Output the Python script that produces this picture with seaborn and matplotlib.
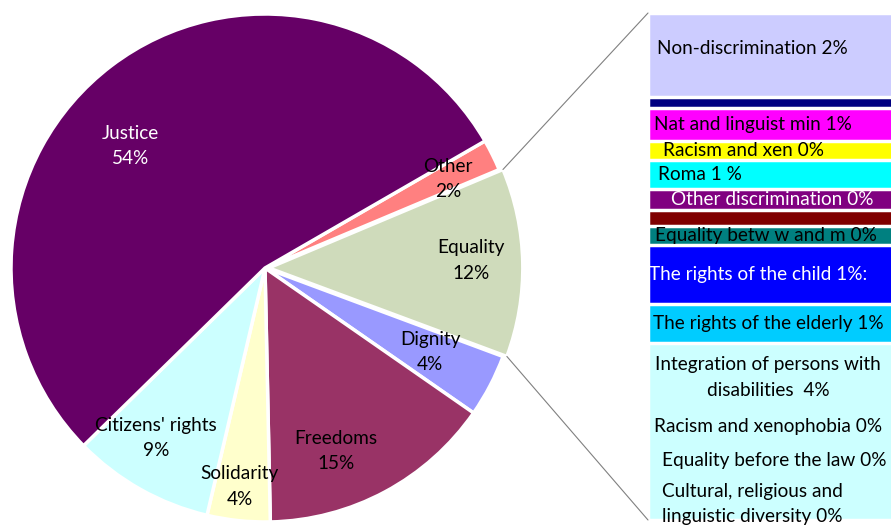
import numpy as np
import matplotlib
matplotlib.use("Agg")
import matplotlib.pyplot as plt
from matplotlib.patches import ConnectionPatch
import seaborn as sns

# pie slices, clockwise starting at 30 degrees
pie_labels = ["Other", "Equality", "Dignity", "Freedoms", "Solidarity", "Citizens' rights", "Justice"]
pie_values = [2, 12, 4, 15, 4, 9, 54]
pie_colors = ["#FF8080", "#CFDBBB", "#9999FF", "#993366", "#FFFFCC", "#CCFFFF", "#660066"]

# breakdown of the Equality slice (top to bottom)
bar_labels = ["Non-discrimination 2%", "", "Nat and linguist min 1%", "Racism and xen 0%",
              "Roma 1 %", "Other discrimination 0%", "", "Equality betw w and m 0%",
              "The rights of the child 1%:", "The rights of the elderly 1%",
              "Integration of persons with\ndisabilities  4%", "Racism and xenophobia 0%",
              "Equality before the law 0%", "Cultural, religious and\nlinguistic diversity 0%"]
bar_values = [1.98, 0.27, 0.79, 0.45, 0.67, 0.51, 0.37, 0.44, 1.41, 0.91, 4.20, 0, 0, 0]
bar_colors = ["#CCCCFF", "#000080", "#FF00FF", "#FFFF00", "#00FFFF", "#800080", "#800000",
              "#008080", "#0000FF", "#00CCFF", "#CCFFFF", "#CCFFCC", "#FFFF99", "#99CCFF"]

sns.set_style("white")
plt.rcParams['font.family'] = ['Lato', 'DejaVu Sans']
FS = 13.7
LS = 1.6

W, H = 891, 525
fig = plt.figure(figsize=(W / 100, H / 100), dpi=100)

# ---- pie ----
cx, cy, R = 265, 268, 254
side = 2.2 * R
ax_pie = fig.add_axes([(cx - side / 2) / W, (H - cy - side / 2) / H, side / W, side / H])
explode = [0.015 if l == "Equality" else 0 for l in pie_labels]
wedges, _ = ax_pie.pie(pie_values, colors=pie_colors, startangle=30, counterclock=False,
                       explode=explode, radius=1,
                       wedgeprops=dict(edgecolor="white", linewidth=2.5))
ax_pie.set_xlim(-1.1, 1.1)
ax_pie.set_ylim(-1.1, 1.1)
ax_pie.set_aspect("equal")
ax_pie.axis("off")

# label spots (x, y in pie radius units)
pie_text_pos = [(0.72, 0.35), (0.81, 0.03), (0.65, -0.33), (0.28, -0.72),
                (-0.10, -0.86), (-0.43, -0.67), (-0.53, 0.48)]
for lab, v, (tx, ty) in zip(pie_labels, pie_values, pie_text_pos):
    ax_pie.text(tx, ty, f"{lab}\n{v}%", ha="center", va="center", fontsize=FS,
                linespacing=LS, color="white" if lab == "Justice" else "black")

# ---- bar of pie ----
bx0, bx1, btop, bbot = 648, 900, 13, 520
ax_bar = fig.add_axes([bx0 / W, (H - bbot) / H, (bx1 - bx0) / W, (bbot - btop) / H])
cum = np.cumsum(bar_values)
for i in reversed(range(len(bar_values))):
    if bar_values[i] > 0:
        sns.barplot(x=[0], y=[cum[i]], color=bar_colors[i], width=1, saturation=1,
                    edgecolor="white", linewidth=2.5, ax=ax_bar)
total = cum[-1]
ax_bar.set_xlim(-0.5, 0.5)
ax_bar.set_ylim(total, 0)
ax_bar.axis("off")

# text layout: (left offset px, y override or None, centred?)
bar_text_layout = [(9, 0.85, False), None, (6, None, False), (15, None, False),
                   (10, None, False), (23, None, False), None, (7, None, False),
                   (1, None, False), (5, None, False), (120, 8.63, True), (6, 9.78, False),
                   (14, 10.58, False), (14, 11.62, False)]
white_text = {"Other discrimination 0%", "The rights of the child 1%:"}
starts = cum - np.array(bar_values)
for i, lab in enumerate(bar_labels):
    lay = bar_text_layout[i]
    if not lab or lay is None:
        continue
    dx, yy, centred = lay
    if yy is None:
        yy = starts[i] + bar_values[i] / 2
    ax_bar.text(-0.5 + dx / (bx1 - bx0), yy, lab, ha="center" if centred else "left",
                va="center", fontsize=FS, linespacing=LS,
                color="white" if lab in white_text else "black", clip_on=False)

# connector lines from the Equality slice to the bar
eq = wedges[pie_labels.index("Equality")]
ecx, ecy = eq.center
for ang, yb in [(max(eq.theta1, eq.theta2), 0), (min(eq.theta1, eq.theta2), total)]:
    p = (ecx + eq.r * np.cos(np.deg2rad(ang)), ecy + eq.r * np.sin(np.deg2rad(ang)))
    con = ConnectionPatch(xyA=p, coordsA=ax_pie.transData, xyB=(-0.5, yb),
                          coordsB=ax_bar.transData, color="#808080", linewidth=0.8)
    fig.add_artist(con)

fig.savefig("out.png", dpi=100)
